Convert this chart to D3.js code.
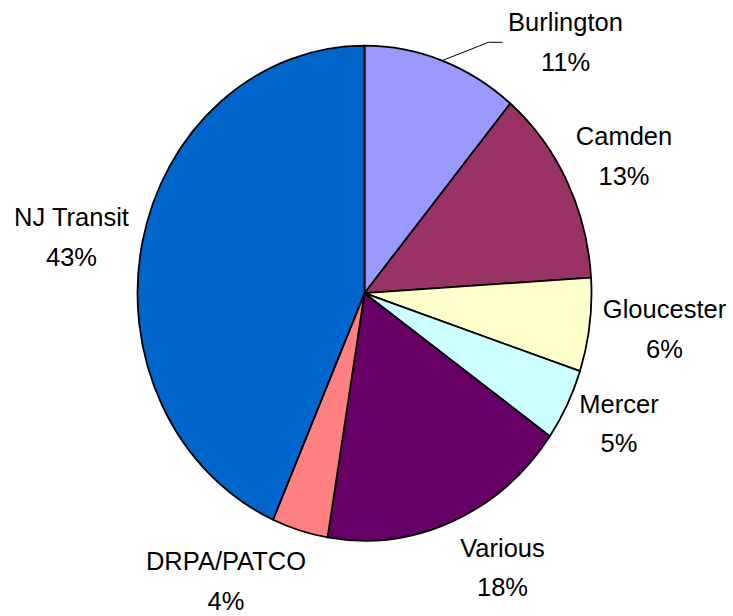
<!DOCTYPE html>
<html>
<head>
<meta charset="utf-8">
<script src="https://cdn.jsdelivr.net/npm/d3@7"></script>
<style>
  html, body { margin: 0; padding: 0; background: #fff; }
  svg { display: block; }
  text { font-family: "Liberation Sans", Arial, sans-serif; fill: #000; }
</style>
</head>
<body>
<svg id="chart" width="733" height="616"></svg>
<script>
// ---- data ----
const categories = ["Burlington", "Camden", "Gloucester", "Mercer", "Various", "DRPA/PATCO", "NJ Transit"];
const shares = [11.1, 12.9, 6.1, 4.7, 17.8, 4.0, 43.4];
const pctLabels = ["11%", "13%", "6%", "5%", "18%", "4%", "43%"];
const colors = ["#9999FF", "#993366", "#FFFFCC", "#CCFFFF", "#660066", "#FF8080", "#0066CC"];

// ---- layout ----
const W = 733, H = 616;
const cx = 364.5, cy = 293.2, rx = 227, ry = 247.5;
const fontSize = 25.5, lineGap = 39.5;
// label anchor (center x, first-line baseline y)
const labelPos = [
  [565.5, 31], [624, 145], [664.5, 318], [619, 412.5],
  [502.5, 556.5], [226, 570], [71.5, 226]
];

const svg = d3.select("#chart");
const data = categories.map((c, i) => ({ name: c, value: shares[i], pct: pctLabels[i], color: colors[i] }));

const pie = d3.pie().sort(null).value(d => d.value);
const arcs = pie(data);
const arc = d3.arc().innerRadius(0).outerRadius(ry);

const g = svg.append("g")
  .attr("transform", `translate(${cx},${cy}) scale(${rx / ry},1)`);

g.selectAll("path.slice")
  .data(arcs)
  .join("path")
  .attr("class", "slice")
  .attr("d", arc)
  .attr("fill", d => d.data.color)
  .attr("stroke", "#000")
  .attr("stroke-width", 1.8)
  .attr("stroke-linejoin", "round")
  .attr("vector-effect", "non-scaling-stroke");

// leader line for Burlington
const b = arcs[0];
const mid = (b.startAngle + b.endAngle) / 2;
const sx = cx + rx * Math.sin(mid), sy = cy - ry * Math.cos(mid);
svg.append("polyline")
  .attr("points", `${sx},${sy} 488.5,42.3 502.5,42.3`)
  .attr("fill", "none")
  .attr("stroke", "#000")
  .attr("stroke-width", 1);

const labels = svg.selectAll("g.lab")
  .data(arcs)
  .join("g")
  .attr("class", "lab");

labels.append("text")
  .attr("x", (d, i) => labelPos[i][0])
  .attr("y", (d, i) => labelPos[i][1])
  .attr("text-anchor", "middle")
  .attr("font-size", fontSize)
  .text(d => d.data.name);

labels.append("text")
  .attr("x", (d, i) => labelPos[i][0])
  .attr("y", (d, i) => labelPos[i][1] + lineGap)
  .attr("text-anchor", "middle")
  .attr("font-size", fontSize)
  .text(d => d.data.pct);
</script>
</body>
</html>
